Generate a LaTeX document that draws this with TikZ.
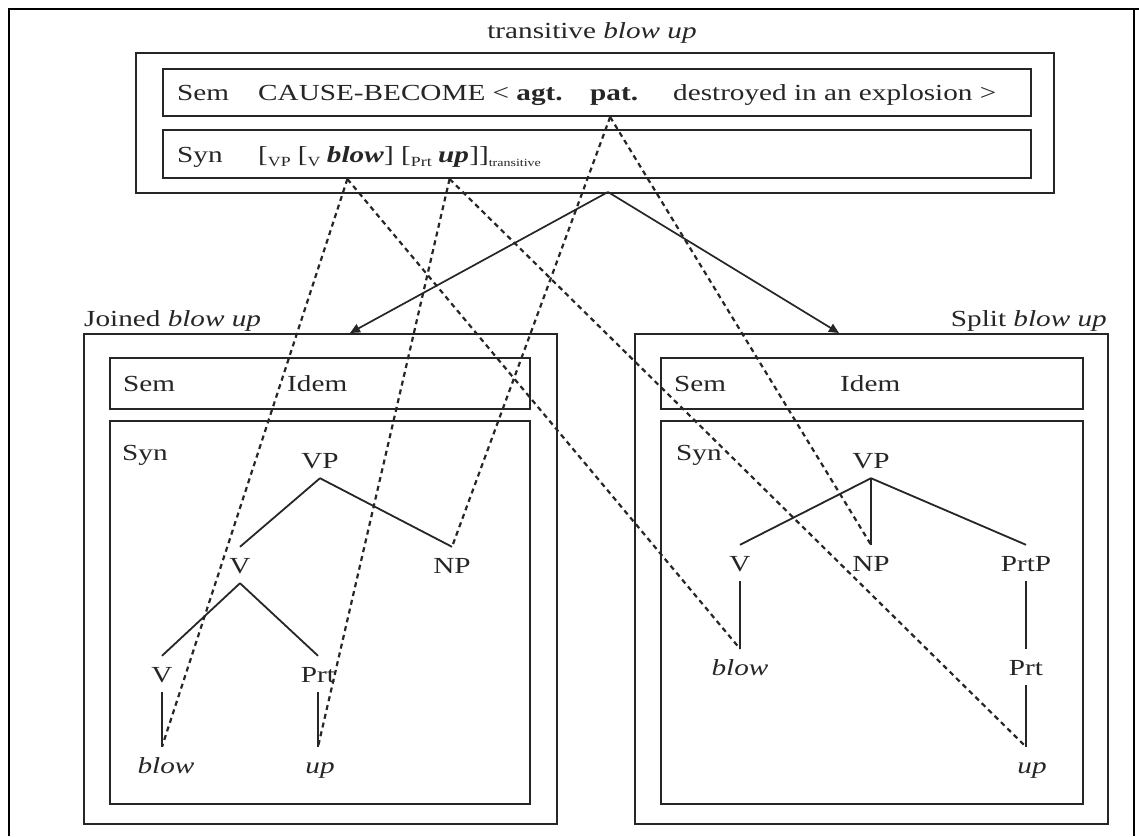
\documentclass[tikz,border=0pt]{standalone}
\usepackage{fontspec}
\setmainfont{Liberation Serif}[FakeStretch=1.27]
\usetikzlibrary{arrows.meta}
% small lowered index used inside the bracketed syntax string
\newcommand\lowidx[1]{\raisebox{-4pt}{\fontsize{14}{14}\selectfont #1}}
\newcommand\tinyidx[1]{\raisebox{-4pt}{\fontsize{11}{11}\selectfont #1}}
\begin{document}
\begin{tikzpicture}[x=1pt,y=-1pt,
  every node/.style={text=black!85},
  font=\fontsize{23}{27}\selectfont,
  frame/.style={draw=black!85, line width=2pt, inner sep=0pt, anchor=north west},
  txt/.style={inner sep=0pt, anchor=base west},
  cat/.style={inner xsep=2pt, inner ysep=10pt, text height=16pt, text depth=0pt},
  branch/.style={draw=black!85, line width=1.8pt},
  link/.style={draw=black!85, line width=2.2pt, dash pattern=on 5pt off 4pt},
  arrow/.style={draw=black!85, line width=1.7pt, -{Triangle[length=10pt,width=9pt]}}]

\useasboundingbox (0,0) rectangle (1139,836);
\fill[white] (0,0) rectangle (1139,836);

% page frame
\draw[line width=1.5pt] (9,836) -- (9,9) -- (1139,9);
\draw[line width=1.5pt] (1134,9) -- (1134,836);

% ---------- transitive blow up ----------
\node[anchor=base, inner sep=0pt] (title) at (592,38) {transitive \textit{blow up}};
\node[frame, minimum width=918pt, minimum height=140pt] (topbox) at (135,52) {};
\node[frame, minimum width=868pt, minimum height=47pt] (tsem) at (162,68) {};
\node[frame, minimum width=868pt, minimum height=48pt] (tsyn) at (162,129) {};

\node[txt] (tsemlbl) at (177,100) {Sem};
\node[txt] (cause) at (258,100) {CAUSE-BECOME < \textbf{agt.}};
\node[txt] (pat) at (590,100) {\textbf{pat.}};
\node[txt] (result) at (673,100) {destroyed in an explosion >};

\node[txt] (tsynlbl) at (177,162) {Syn};
\node[txt] (s1) at (258,162) {[\lowidx{VP} [\lowidx{V}};
\node[txt] (synblow) at ([xshift=6pt]s1.base east) {\textbf{\textit{blow}}};
\node[txt] (s2) at (synblow.base east) {] [\lowidx{Prt}};
\node[txt] (synup) at ([xshift=6pt]s2.base east) {\textbf{\textit{up}}};
\node[txt] (s3) at (synup.base east) {]]\tinyidx{transitive}};

% ---------- Joined blow up ----------
\node[txt] (jtitle) at (84,326) {Joined \textit{blow up}};
\node[frame, minimum width=473pt, minimum height=490pt] (jbox) at (83,333) {};
\node[frame, minimum width=420pt, minimum height=51pt] (jsem) at (109,357) {};
\node[frame, minimum width=420pt, minimum height=383pt] (jsyn) at (109,420) {};
\node[txt] (jsemlbl) at (123,391) {Sem};
\node[txt] (jidem) at (287,391) {Idem};
\node[txt] (jsynlbl) at (122,460) {Syn};

\node[cat] (jVP)  at (320,460) {VP};
\node[cat] (jV)   at (240,565) {V};
\node[cat] (jNP)  at (452,565) {NP};
\node[cat] (jV2)  at (162,674) {V};
\node[cat] (jPrt) at (318,674) {Prt};
\node[cat] (jblow) at (166,765) {\textit{blow}};
\node[cat] (jup)  at (320,765) {\textit{up}};

\draw[branch] (jVP.south) -- (jV.north);
\draw[branch] (jVP.south) -- (jNP.north);
\draw[branch] (jV.south) -- (jV2.north);
\draw[branch] (jV.south) -- (jPrt.north);
\draw[branch] (jV2.south) -- (jV2.south |- jblow.north);
\draw[branch] (jPrt.south) -- (jPrt.south |- jup.north);

% ---------- Split blow up ----------
\node[anchor=base east, inner sep=0pt] (stitle) at (1107,326) {Split \textit{blow up}};
\node[frame, minimum width=473pt, minimum height=490pt] (sbox) at (634,333) {};
\node[frame, minimum width=422pt, minimum height=51pt] (ssem) at (660,357) {};
\node[frame, minimum width=422pt, minimum height=383pt] (ssyn) at (660,420) {};
\node[txt] (ssemlbl) at (674,391) {Sem};
\node[txt] (sidem) at (840,391) {Idem};
\node[txt] (ssynlbl) at (676,460) {Syn};

\node[cat] (sVP)   at (871,460) {VP};
\node[cat] (sV)    at (740,563) {V};
\node[cat] (sNP)   at (871,563) {NP};
\node[cat] (sPrtP) at (1026,563) {PrtP};
\node[cat] (sblow) at (740,667) {\textit{blow}};
\node[cat] (sPrt)  at (1026,667) {Prt};
\node[cat] (sup)   at (1032,765) {\textit{up}};

\draw[branch] (sVP.south) -- (sV.north);
\draw[branch] (sVP.south) -- (sNP.north);
\draw[branch] (sVP.south) -- (sPrtP.north);
\draw[branch] (sV.south) -- (sV.south |- sblow.north);
\draw[branch] (sPrtP.south) -- (sPrtP.south |- sPrt.north);
\draw[branch] (sPrt.south) -- (sPrt.south |- sup.north);

% ---------- inheritance arrows ----------
\coordinate (fork) at (608,192);
\coordinate (jin) at (350,333);
\coordinate (sin) at (839,333);
\draw[arrow] (fork) -- (jin);
\draw[arrow] (fork) -- (sin);

% ---------- correspondence links ----------
\coordinate (blowsrc) at ([xshift=-8pt]synblow.south |- tsyn.south);
\coordinate (upsrc) at ([xshift=-4pt]synup.south |- tsyn.south);
\coordinate (patsrc) at ([xshift=-4pt]pat.south |- tsem.south);
\draw[link] (blowsrc) -- (jV2.south |- jblow.north);
\draw[link] (blowsrc) -- (sV.south |- sblow.north);
\draw[link] (upsrc) -- (jPrt.south |- jup.north);
\draw[link] (upsrc) -- (sPrt.south |- sup.north);
\draw[link] (patsrc) -- (jNP.north);
\draw[link] (patsrc) -- (sNP.north);
\end{tikzpicture}
\end{document}
